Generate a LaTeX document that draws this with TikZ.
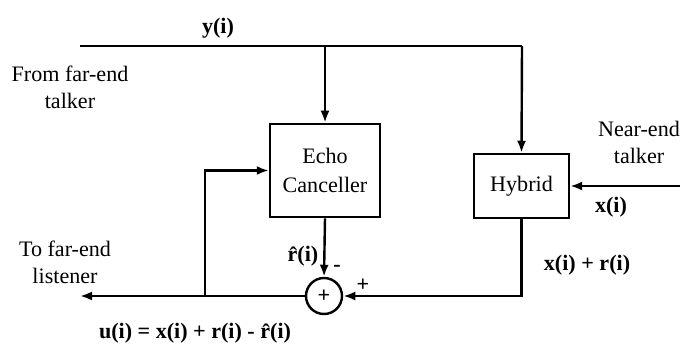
\documentclass[tikz,border=0pt]{standalone}
\usepackage{fontspec}
\setmainfont{Liberation Serif}
\usepackage{tikz}
\usetikzlibrary{positioning, arrows.meta, calc}

\begin{document}
\begin{tikzpicture}[
    x=0.0175cm, y=-0.0175cm,
    font=\fontsize{11}{13.5}\selectfont,
    % Node styles
    block/.style={rectangle, draw, line width=1.2pt, align=center},
    adder/.style={circle, draw, line width=1.2pt, minimum size=0.63cm, inner sep=0pt, font=\fontsize{11}{13.5}\selectfont\bfseries},
    label/.style={font=\fontsize{11}{13.5}\selectfont\bfseries},
    caption/.style={align=center},
    % Edge styles
    signal/.style={line width=1.2pt},
    flow/.style={-{Latex[length=6pt, width=4.5pt]}, line width=1.2pt}
]
\useasboundingbox (0,0) rectangle (688,350);
% Blocks
\node[block, minimum width=1.925cm, minimum height=1.63cm,
      font=\fontsize{11}{14.5}\selectfont] (echo) at (325,170.5) {Echo\\Canceller};
\node[block, minimum width=1.66cm, minimum height=1.12cm] (hybrid) at (521.5,186) {Hybrid};
\node[adder] (sum) at (324,296) {+};
% Corner points
\coordinate (ystart) at (80,46);
\coordinate (ycorner) at (522,46);
\coordinate (nearin) at (680,186);
\coordinate (fbtap) at (205,296);
\coordinate (outend) at (80,296);
% Connections
\draw[signal] (ystart) -- (ycorner);
\draw[flow] (ycorner) -- (hybrid.north);
\draw[flow] (echo.north |- ystart) -- (echo.north);
\draw[flow] (nearin) -- (hybrid.east);
\draw[flow] (hybrid.south) |- (sum.east);
\draw[flow] (echo.south) -- (sum.north);
\draw[flow] (sum.west) -- (outend);
\draw[flow] (fbtap) |- (echo.west);
% Texts
\node[label] (ylab) at (218,28) {y(i)};
\node[caption] (far) at (70,87) {From far-end\\talker};
\node[caption] (near) at (639,142) {Near-end\\talker};
\node[label] (xlab) at (611,207) {x(i)};
\node[label] (xrlab) at (587,265) {x(i) + r(i)};
\node[caption] (listener) at (65,262) {To far-end\\listener};
\node[label] (rhat) at (303,256) {\^{r}(i)};
\node[label] (minus) at (337,268) {-};
\node[label] (plus) at (363,285) {+};
\node[label] (ulab) at (195,333) {u(i) = x(i) + r(i) - \^{r}(i)};
\end{tikzpicture}
\end{document}
